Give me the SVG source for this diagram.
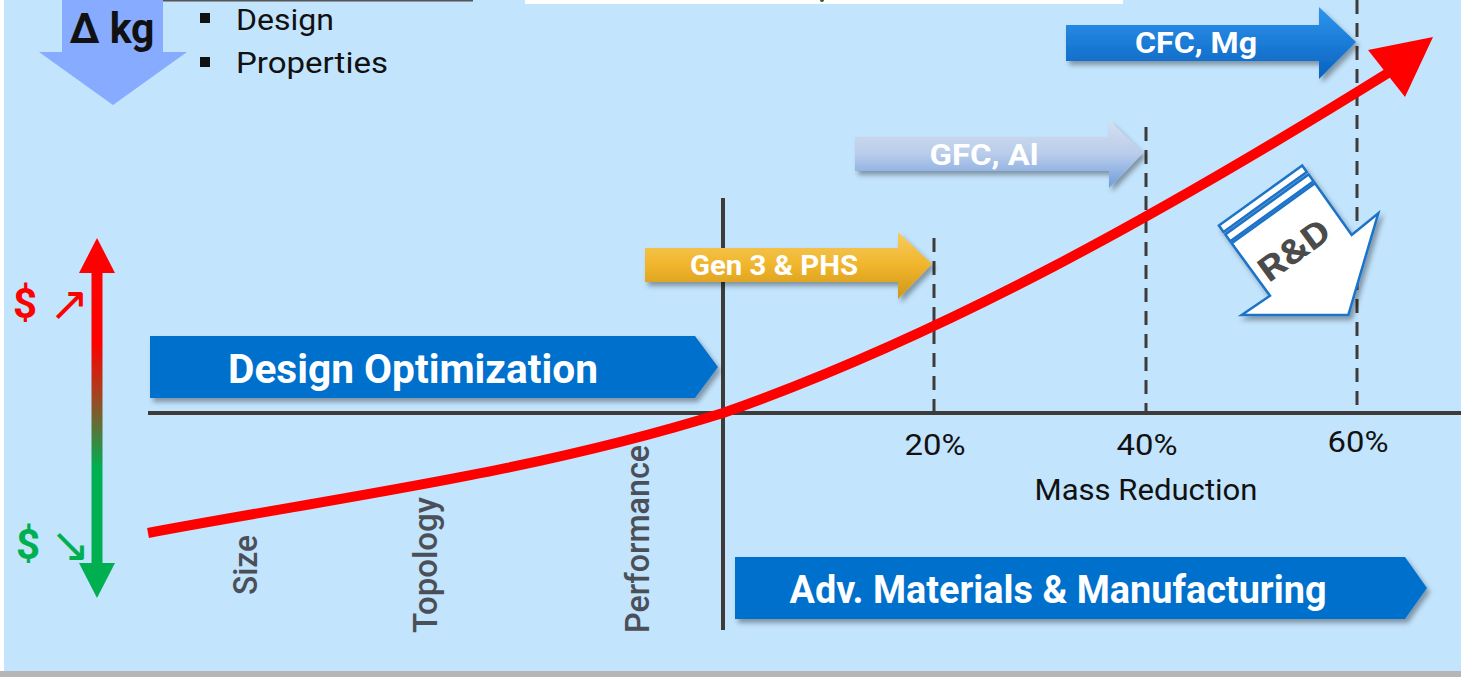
<svg xmlns="http://www.w3.org/2000/svg" width="1461" height="677" viewBox="0 0 1461 677">
<style>
.lbl{font-family:Roboto,"Liberation Sans",sans-serif;font-weight:bold;fill:#fff;text-anchor:middle}
.axis{stroke:#3F3B38;stroke-width:4;fill:none}
.dash{stroke:#3F3B38;stroke-width:3;stroke-dasharray:14 9;fill:none}
.blk{font-family:Roboto,"Liberation Sans",sans-serif;fill:#111}
.vert{font-family:Roboto,"Liberation Sans",sans-serif;font-weight:500;font-size:33px;fill:#4B5058}
.blue{fill:#0070CD}
.arr{font-family:"DejaVu Sans",sans-serif;font-size:48px}
.dol{font-family:Roboto,"Liberation Sans",sans-serif;font-weight:bold;font-size:42px}
</style>
<defs>
<filter id="sh" x="-10%" y="-20%" width="130%" height="160%"><feDropShadow dx="3" dy="4" stdDeviation="2.5" flood-color="#000" flood-opacity="0.35"/></filter>
<linearGradient id="gCFC" x1="0" y1="0" x2="0" y2="1"><stop offset="0" stop-color="#2E95EE"/><stop offset="1" stop-color="#0862BF"/></linearGradient>
<linearGradient id="gGFC" x1="0" y1="0" x2="0" y2="1"><stop offset="0" stop-color="#D6E0EF"/><stop offset="0.5" stop-color="#B9CCEA"/><stop offset="1" stop-color="#6E9DDC"/></linearGradient>
<linearGradient id="gGEN" x1="0" y1="0" x2="0" y2="1"><stop offset="0" stop-color="#F7CB60"/><stop offset="0.5" stop-color="#F0B52C"/><stop offset="1" stop-color="#CF961A"/></linearGradient>
<linearGradient id="gDbl" gradientUnits="userSpaceOnUse" x1="0" y1="238" x2="0" y2="598"><stop offset="0" stop-color="#FF0000"/><stop offset="0.29" stop-color="#FF0000"/><stop offset="0.45" stop-color="#9A4A22"/><stop offset="0.6" stop-color="#1F9A4A"/><stop offset="0.64" stop-color="#00B050"/><stop offset="1" stop-color="#00B050"/></linearGradient>
</defs>

<rect x="0" y="0" width="1461" height="677" fill="#fff"/>
<rect x="0" y="671" width="1461" height="6" fill="#B4B6B8"/>
<rect x="4" y="0" width="1457" height="671" fill="#C3E4FD"/>
<rect x="525" y="0" width="598" height="4" fill="#fff"/>
<line x1="65" y1="0.5" x2="473" y2="0.5" stroke="#555" stroke-width="2"/>
<circle cx="822" cy="0" r="2" fill="#2E5E1E"/>

<g id="delta-kg">
<path d="M62,0 H163 V52 H187 L113,105 L39,52 H62 Z" fill="#86ABFF"/>
<text x="112" y="43" class="blk" font-size="42" font-weight="bold" text-anchor="middle" textLength="85" lengthAdjust="spacingAndGlyphs">Δ kg</text>
</g>

<g id="bullets">
<rect x="200" y="13" width="10" height="10" fill="#111"/>
<rect x="200" y="57" width="10" height="10" fill="#111"/>
<text x="236" y="30" class="blk" font-size="29" textLength="98" lengthAdjust="spacingAndGlyphs">Design</text>
<text x="236" y="73" class="blk" font-size="29" textLength="152" lengthAdjust="spacingAndGlyphs">Properties</text>
</g>

<g id="axes">
<line class="axis" x1="148" y1="413" x2="1461" y2="413"/>
<line class="axis" x1="723" y1="198" x2="723" y2="630"/>
<line class="dash" x1="934" y1="238" x2="934" y2="411"/>
<line class="dash" x1="1146" y1="127" x2="1146" y2="411"/>
<line class="dash" x1="1357" y1="0" x2="1357" y2="411"/>
</g>

<g id="axis-labels">
<text x="935" y="455" class="blk" font-size="30" text-anchor="middle" textLength="61" lengthAdjust="spacingAndGlyphs">20%</text>
<text x="1147" y="455" class="blk" font-size="30" text-anchor="middle" textLength="61" lengthAdjust="spacingAndGlyphs">40%</text>
<text x="1358" y="452" class="blk" font-size="30" text-anchor="middle" textLength="61" lengthAdjust="spacingAndGlyphs">60%</text>
<text x="1146" y="500" class="blk" font-size="30" text-anchor="middle" textLength="223" lengthAdjust="spacingAndGlyphs">Mass Reduction</text>
</g>

<g id="vertical-labels">
<text class="vert" transform="translate(257,595) rotate(-90)" textLength="60" lengthAdjust="spacingAndGlyphs">Size</text>
<text class="vert" transform="translate(437,633) rotate(-90)" textLength="136" lengthAdjust="spacingAndGlyphs">Topology</text>
<text class="vert" transform="translate(649,633) rotate(-90)" textLength="188" lengthAdjust="spacingAndGlyphs">Performance</text>
</g>

<g id="design-optimization">
<polygon class="blue" filter="url(#sh)" points="150,336 695,336 718,367 695,398 150,398"/>
<text x="413" y="383" class="lbl" font-size="40" textLength="370" lengthAdjust="spacingAndGlyphs">Design Optimization</text>
</g>

<g id="adv-materials">
<polygon class="blue" filter="url(#sh)" points="735,557 1405,557 1427,588 1405,619 735,619"/>
<text x="1058" y="603" class="lbl" font-size="38" textLength="537" lengthAdjust="spacingAndGlyphs">Adv. Materials &amp; Manufacturing</text>
</g>

<g id="gen3">
<path d="M645,248 H898 V232 L932,264 L898,299 V282 H645 Z" fill="url(#gGEN)" filter="url(#sh)"/>
<text x="774" y="275" class="lbl" font-size="28" textLength="168" lengthAdjust="spacingAndGlyphs">Gen 3 &amp; PHS</text>
</g>

<g id="gfc">
<path d="M855,137 H1109 V120 L1143,153 L1109,188 V171 H855 Z" fill="url(#gGFC)" filter="url(#sh)"/>
<text x="984" y="165" class="lbl" font-size="30" textLength="109" lengthAdjust="spacingAndGlyphs">GFC, Al</text>
</g>

<g id="cfc">
<path d="M1066,25 H1319 V7 L1356,42 L1319,79 V61 H1066 Z" fill="url(#gCFC)" filter="url(#sh)"/>
<text x="1196" y="53" class="lbl" font-size="30" textLength="122" lengthAdjust="spacingAndGlyphs">CFC, Mg</text>
</g>

<g id="rnd">
<g filter="url(#sh)" stroke="#1A73C8" stroke-width="2.5" fill="#fff" stroke-linejoin="miter">
<polygon points="1231.7,243.3 1315,183.3 1351.7,235 1378.3,213.3 1348.3,315 1241.7,315 1270,295.7"/>
<polygon points="1230.2,241.3 1313.5,181.3 1308.6,174.4 1225.3,234.4"/>
<polygon points="1223.5,231.9 1306.8,171.9 1302.2,165.5 1218.9,225.5"/>
</g>
<text transform="translate(1294,250) rotate(-36)" x="0" y="12" font-family="Roboto,'Liberation Sans',sans-serif" font-weight="bold" font-size="34" fill="#4B4B4B" text-anchor="middle" textLength="80" lengthAdjust="spacingAndGlyphs">R&amp;D</text>
</g>

<g id="connectors">
<path d="M148,533 C340,497 531,473 723,413 C945,335 1166,211 1388,73" fill="none" stroke="#FF0000" stroke-width="10"/>
<polygon points="1368,50 1433,37 1405,97" fill="#FF0000"/>
</g>

<g id="cost-arrow">
<rect x="91.5" y="270" width="11" height="296" fill="url(#gDbl)"/>
<polygon points="97,238 115,273 79,273" fill="#FF0000"/>
<polygon points="97,598 115,563 79,563" fill="#00B050"/>
<text x="13" y="318" class="dol" fill="#FF0000">$</text>
<text x="49" y="320" class="arr" fill="#FF0000">↗</text>
<text x="16" y="559" class="dol" fill="#00B050">$</text>
<text x="50" y="561" class="arr" fill="#00B050">↘</text>
</g>
</svg>
